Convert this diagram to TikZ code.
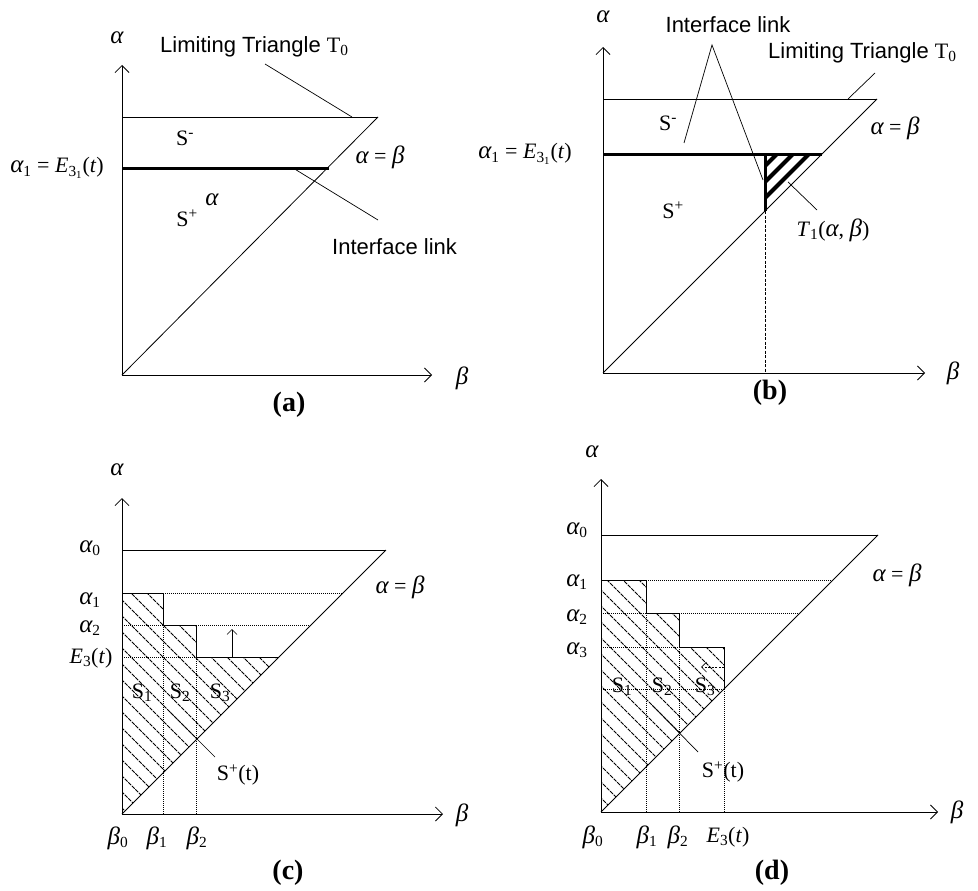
\documentclass[tikz,border=0pt]{standalone}
\usepackage{fontspec}
\setmainfont{Liberation Serif}
\newfontfamily\arialf{Liberation Sans}
\usetikzlibrary{arrows.meta}
\newcommand\myal{{\fontsize{25}{25}\selectfont\itshape α}}
\newcommand\mybe{{\fontsize{25}{25}\selectfont\itshape β}}
\newcommand\mysub[1]{\textsubscript{#1}}
\tikzset{
  lbl/.style={inner sep=0pt, font=\fontsize{22}{26}\selectfont},
  sans/.style={inner sep=0pt, font=\arialf\fontsize{22}{26}\selectfont},
  captext/.style={inner sep=0pt, font=\fontsize{28}{32}\selectfont\bfseries},
  thinline/.style={line width=0.8pt},
  axis/.style={line width=0.8pt, -{Straight Barb[length=7pt,width=14pt,line width=0.8pt]}},
  heavy/.style={line width=3pt},
  dotline/.style={line width=0.8pt, dash pattern=on 1pt off 1pt},
  hatchline/.style={line width=0.9pt, dash pattern=on 4pt off 1pt},
  leader/.style={line width=0.7pt}
}
\begin{document}
\begin{tikzpicture}[x=1pt,y=-1pt]
\useasboundingbox (0,0) rectangle (978,891);
\fill[white] (0,0) rectangle (978,891);

% ================= (a) =================
\coordinate (aO) at (122,375);
\coordinate (aYt) at (122,65);
\coordinate (aXt) at (432,375);
\coordinate (aTL) at (122,117);
\coordinate (aTR) at (378,117);
\coordinate (aHL) at (122,168);
\coordinate (aHR) at (329,168);
\draw[axis] (aO) -- (aYt);
\draw[axis] (aO) -- (aXt);
\draw[thinline] (aTL) -- (aTR);
\draw[thinline] (aO) -- (aTR);
\draw[heavy] (aHL) -- (aHR);
\node[lbl] (aal) at (117,38) {\myal};
\node[lbl] (abe) at (462,378) {\mybe};
\node[sans, anchor=west] (alim) at (160,47) {Limiting Triangle {\rmfamily T\mysub{0}}};
\coordinate (alim1) at (265,64);
\coordinate (alim2) at (352,117);
\draw[leader] (alim1) -- (alim2);
\node[lbl] (aSm) at (185,138) {S\textsuperscript{-}};
\node[lbl] (aeq) at (380,157) {\myal{} = \mybe};
\node[lbl, anchor=east] (aa1) at (104,168) {\myal\mysub{1} = \textit{E}\mysub{3\mysub{1}}(\textit{t})};
\node[lbl] (aal2) at (212,200) {\myal};
\node[lbl] (aSp) at (187,218) {S\textsuperscript{+}};
\coordinate (aint1) at (293,168);
\coordinate (aint2) at (378,220);
\draw[leader] (aint1) -- (aint2);
\node[sans, anchor=west] (aint) at (332,247) {Interface link};
\node[captext] (acap) at (289,405) {(a)};

% ================= (b) =================
\coordinate (bO) at (603,373);
\coordinate (bYt) at (603,47);
\coordinate (bXt) at (925,373);
\coordinate (bTL) at (603,99);
\coordinate (bTR) at (877,99);
\coordinate (bHL) at (603,154);
\coordinate (bHR) at (822,154);
\coordinate (bV) at (765,154);
\coordinate (bVd) at (765,211);
\coordinate (bVx) at (765,373);
\begin{scope}
  \clip (bV) -- (bHR) -- (bVd) -- cycle;
  \foreach \c in {931,947,963} \draw[line width=4pt] (700,{\c-700}) -- (900,{\c-900});
\end{scope}
\draw[axis] (bO) -- (bYt);
\draw[axis] (bO) -- (bXt);
\draw[thinline] (bTL) -- (bTR);
\draw[thinline] (bO) -- (bTR);
\draw[heavy] (bHL) -- (bHR);
\draw[heavy] (bV) -- (bVd);
\draw[line width=0.8pt, dash pattern=on 3pt off 1.5pt] (bVd) -- (bVx);
\node[lbl] (bal) at (603,17) {\myal};
\node[lbl] (bbe) at (953,373) {\mybe};
\node[sans] (bint) at (728,25) {Interface link};
\coordinate (bint0) at (712,45);
\coordinate (bint1) at (684,143);
\coordinate (bint2) at (763,180);
\draw[leader] (bint1) -- (bint0) -- (bint2);
\node[sans, anchor=west] (blim) at (768,53) {Limiting Triangle {\rmfamily T\mysub{0}}};
\coordinate (blim1) at (875,73);
\coordinate (blim2) at (848,99);
\draw[leader] (blim1) -- (blim2);
\node[lbl] (bSm) at (668,123) {S\textsuperscript{-}};
\node[lbl] (beq) at (895,128) {\myal{} = \mybe};
\node[lbl, anchor=east] (ba1) at (572,154) {\myal\mysub{1} = \textit{E}\mysub{3\mysub{1}}(\textit{t})};
\node[lbl] (bSp) at (673,210) {S\textsuperscript{+}};
\node[lbl] (bT1) at (833,230) {\textit{T}\mysub{1}(\myal, \mybe)};
\coordinate (bT1a) at (788,182);
\coordinate (bT1b) at (817,210);
\draw[leader] (bT1a) -- (bT1b);
\node[captext] (bcap) at (770,393) {(b)};

% ================= (c) =================
\coordinate (cO) at (122,814);
\coordinate (cYt) at (122,498);
\coordinate (cXt) at (443,814);
\coordinate (cTL) at (122,550);
\coordinate (cTR) at (386,550);
\begin{scope}
  \clip (122,593) -- (163,593) -- (163,625) -- (196,625) -- (196,657) -- (279,657) -- (cO) -- cycle;
  \foreach \c in {382,398,...,700} \draw[hatchline] (100,{100+\c}) -- (400,{400+\c});
\end{scope}
\draw[axis] (cO) -- (cYt);
\draw[axis] (cO) -- (cXt);
\draw[thinline] (cTL) -- (cTR);
\draw[thinline] (cO) -- (cTR);
% steps
\draw[thinline] (122,593) -- (163,593) -- (163,625) -- (196,625) -- (196,657) -- (279,657);
\draw[dotline] (163,593) -- (343,593);
\draw[dotline] (122,625) -- (163,625);
\draw[dotline] (196,625) -- (311,625);
\draw[dotline] (122,657) -- (196,657);
\draw[dotline] (163,625) -- (163,814);
\draw[dotline] (196,657) -- (196,814);
\coordinate (cup0) at (232,657);
\coordinate (cup1) at (232,629);
\draw[line width=0.7pt, -{Straight Barb[length=5pt,width=10pt,line width=0.7pt]}] (cup0) -- (cup1);
\node[lbl] (cal) at (117,470) {\myal};
\node[lbl] (cbe) at (462,815) {\mybe};
\node[lbl] (ca0) at (90,548) {\myal\mysub{0}};
\node[lbl] (ca1) at (90,600) {\myal\mysub{1}};
\node[lbl] (ca2) at (90,628) {\myal\mysub{2}};
\node[lbl] (cE3) at (91,658) {\textit{E}\mysub{3}(\textit{t})};
\node[lbl] (cS1) at (142,693) {S\mysub{1}};
\node[lbl] (cS2) at (180,693) {S\mysub{2}};
\node[lbl] (cS3) at (220,693) {S\mysub{3}};
\node[lbl] (cSp) at (238,775) {S\textsuperscript{+}(t)};
\coordinate (cl0) at (170,712);
\coordinate (cl1) at (215,757);
\draw[leader] (cl0) -- (cl1);
\node[lbl] (cb0) at (118,838) {\mybe\mysub{0}};
\node[lbl] (cb1) at (157,838) {\mybe\mysub{1}};
\node[lbl] (cb2) at (197,838) {\mybe\mysub{2}};
\node[lbl] (ceq) at (400,587) {\myal{} = \mybe};
\node[captext] (ccap) at (288,873) {(c)};

% ================= (d) =================
\coordinate (dO) at (601,812);
\coordinate (dYt) at (601,479);
\coordinate (dXt) at (938,812);
\coordinate (dTL) at (601,535);
\coordinate (dTR) at (878,535);
\begin{scope}
  \clip (601,580) -- (646,580) -- (646,613) -- (679,613) -- (679,647) -- (724,647) -- (724,689) -- (dO) -- cycle;
  \foreach \c in {-75,-59,...,215} \draw[hatchline] (550,{550+\c}) -- (850,{850+\c});
\end{scope}
\draw[axis] (dO) -- (dYt);
\draw[axis] (dO) -- (dXt);
\draw[thinline] (dTL) -- (dTR);
\draw[thinline] (dO) -- (dTR);
\draw[thinline] (601,580) -- (646,580) -- (646,613) -- (679,613) -- (679,647) -- (724,647) -- (724,689);
\draw[dotline] (646,580) -- (833,580);
\draw[dotline] (601,613) -- (646,613);
\draw[dotline] (679,613) -- (800,613);
\draw[dotline] (601,647) -- (679,647);
\draw[dotline] (601,689) -- (724,689);
\draw[dotline] (646,613) -- (646,812);
\draw[dotline] (679,647) -- (679,812);
\draw[dotline] (724,689) -- (724,812);
\coordinate (dar0) at (724,667);
\coordinate (dar1) at (701,667);
\draw[line width=0.7pt, dash pattern=on 2pt off 1.5pt, -{Straight Barb[length=5pt,width=10pt,line width=0.7pt]}] (dar0) -- (dar1);
\node[lbl] (dal) at (592,452) {\myal};
\node[lbl] (dbe) at (957,812) {\mybe};
\node[lbl] (da0) at (577,530) {\myal\mysub{0}};
\node[lbl] (da1) at (577,582) {\myal\mysub{1}};
\node[lbl] (da2) at (577,617) {\myal\mysub{2}};
\node[lbl] (da3) at (577,650) {\myal\mysub{3}};
\node[lbl] (dS1) at (622,687) {S\mysub{1}};
\node[lbl] (dS2) at (662,687) {S\mysub{2}};
\node[lbl] (dS3) at (705,687) {S\mysub{3}};
\node[lbl] (dSp) at (723,772) {S\textsuperscript{+}(t)};
\coordinate (dl0) at (652,705);
\coordinate (dl1) at (698,752);
\draw[leader] (dl0) -- (dl1);
\node[lbl] (db0) at (593,837) {\mybe\mysub{0}};
\node[lbl] (db1) at (647,837) {\mybe\mysub{1}};
\node[lbl] (db2) at (678,837) {\mybe\mysub{2}};
\node[lbl] (dE3) at (728,837) {\textit{E}\mysub{3}(\textit{t})};
\node[lbl] (deq) at (897,575) {\myal{} = \mybe};
\node[captext] (dcap) at (772,873) {(d)};
\end{tikzpicture}
\end{document}
